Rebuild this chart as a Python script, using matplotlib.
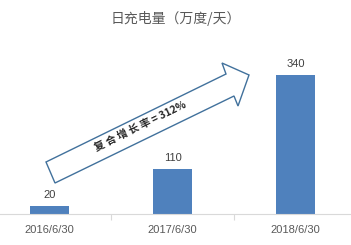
import matplotlib.pyplot as plt
from matplotlib.patches import Polygon

# data
dates = ["2016/6/30", "2017/6/30", "2018/6/30"]
values = [20, 110, 340]
title = "日充电量（万度/天）"
cagr_text = "复 合 增 长 率 = 312%"

W, H = 351, 245
fig = plt.figure(figsize=(W / 100, H / 100), dpi=100)
ax = fig.add_axes([-12 / W, 31 / H, 369 / W, 174 / H])

x = range(len(dates))
ax.bar(x, values, width=0.31, color="#4F81BD", zorder=2)
for xi, v in zip(x, values):
    ax.text(xi, v + 14, str(v), ha="center", va="bottom", fontsize=8,
            color="#404040", family="Liberation Sans")

ax.set_xlim(-0.5, 2.5)
ax.set_ylim(0, 425.6)
ax.set_xticks(list(x))
ax.set_xticklabels(dates, fontsize=8, color="#595959", family="Liberation Sans")
ax.tick_params(axis="x", which="major", length=0, pad=8)
ax.set_xticks([0.5, 1.5], minor=True)
ax.tick_params(axis="x", which="minor", length=4, color="#D9D9D9", width=0.8)
ax.set_yticks([])
for s in ["top", "right", "left"]:
    ax.spines[s].set_visible(False)
ax.spines["bottom"].set_color("#D9D9D9")
ax.spines["bottom"].set_linewidth(0.8)

fig.text(0.5, 1 - 18 / H, title, ha="center", va="center", fontsize=10,
         color="#595959", family=["Noto Sans CJK SC", "DejaVu Sans"])

# hollow block arrow (pixel outline -> figure fraction)
pts = [(46, 162), (226, 74), (222, 63), (249, 75), (238, 106), (234, 96), (55, 183)]
arrow = Polygon([(px / W, 1 - py / H) for px, py in pts], closed=True,
                transform=fig.transFigure, facecolor="white",
                edgecolor="#41719C", linewidth=1.0, zorder=3)
fig.add_artist(arrow)
fig.text(140 / W, 1 - 126 / H, cagr_text, ha="center", va="center",
         rotation=26, rotation_mode="anchor", fontsize=7.5, fontweight="bold",
         color="#262626", family=["Noto Sans CJK SC", "DejaVu Sans"], zorder=4)

fig.savefig("out.png", dpi=100)
